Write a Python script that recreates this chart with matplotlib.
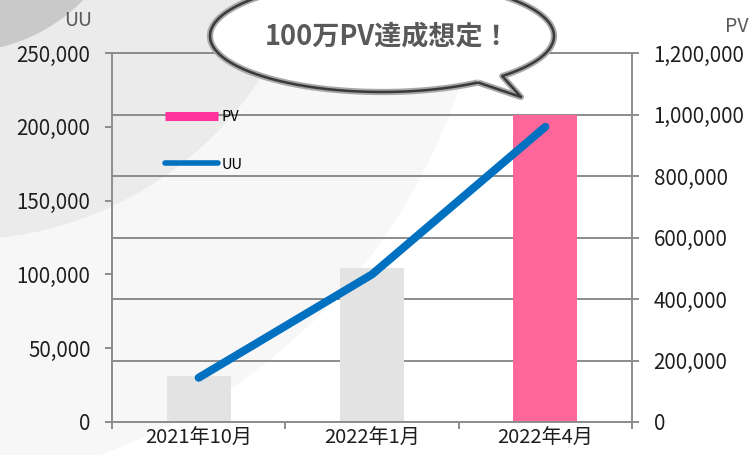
import numpy as np
import matplotlib
matplotlib.use("Agg")
import matplotlib.pyplot as plt
from matplotlib.patches import Circle, PathPatch
from matplotlib.path import Path
from matplotlib.lines import Line2D
from matplotlib.ticker import FuncFormatter

plt.rcParams['font.family'] = ['Noto Sans CJK JP', 'DejaVu Sans']

# ---- data ----
categories = ['2021年10月', '2022年1月', '2022年4月']
pv_values = [150000, 500000, 1000000]
uu_values = [30000, 100000, 200000]
pv_ticks = [0, 200000, 400000, 600000, 800000, 1000000, 1200000]
uu_ticks = [0, 50000, 100000, 150000, 200000, 250000]
bar_colors = ['#e3e3e3', '#e3e3e3', '#ff6699']
bubble_text = '100万PV達成想定！'

W, H = 750, 455
fig = plt.figure(figsize=(W / 100, H / 100), dpi=100)
fig.patch.set_facecolor('white')

# ---- background decoration (pixel coordinates) ----
bg = fig.add_axes([0, 0, 1, 1], zorder=-5)
bg.set_xlim(0, W)
bg.set_ylim(H, 0)
bg.axis('off')
bg.add_patch(Circle((-100, -100), 590, fc='#f7f7f7', ec='none'))
bg.add_patch(Circle((-40, -120), 360, fc='#ebebeb', ec='none'))
bg.add_patch(Circle((-40, -120), 172, fc='#c9c9c9', ec='none'))

# ---- main axes ----
L, R, T, B = 112, 632, 53, 422
ax = fig.add_axes([L / W, 1 - B / H, (R - L) / W, (B - T) / H])
ax.patch.set_visible(False)
x = np.arange(len(categories))
ax.bar(x, pv_values, width=0.37, color=bar_colors, zorder=2)
ax.set_xlim(-0.5, len(categories) - 0.5)
ax.set_ylim(0, pv_ticks[-1])
ax.set_axisbelow(True)
ax.grid(axis='y', color='#8c8c8c', lw=1.4)

ax.set_xticks(np.arange(len(categories) + 1) - 0.5)
ax.set_xticklabels([])
ax.set_xticks(x, minor=True)
ax.set_xticklabels(categories, minor=True)
ax.tick_params(axis='x', which='major', direction='out', length=5, width=1.4, color='#8c8c8c')
ax.tick_params(axis='x', which='minor', length=0, pad=4, labelsize=14.5, labelcolor='#1e1e1e')
for s in ax.spines.values():
    s.set_color('#8c8c8c')
    s.set_linewidth(1.4)

ax2 = ax.twinx()
ax2.patch.set_visible(False)
ax2.plot(x, uu_values, color='#0070c0', lw=5.8, solid_capstyle='round',
         solid_joinstyle='round', zorder=3)
ax2.set_ylim(0, uu_ticks[-1])
for s in ax2.spines.values():
    s.set_visible(False)

# PV axis on the right (ax), UU axis on the left (ax2)
ax.yaxis.set_ticks_position('right')
ax.set_yticks(pv_ticks)
ax.yaxis.set_major_formatter(FuncFormatter(lambda v, p: f'{int(v):,}'))
ax.tick_params(axis='y', which='both', left=False, labelleft=False, right=True, labelright=True,
               direction='out', length=5, width=1.4, color='#8c8c8c',
               pad=10.5, labelsize=14.8, labelcolor='#1e1e1e')

ax2.yaxis.set_ticks_position('left')
ax2.set_yticks(uu_ticks)
ax2.yaxis.set_major_formatter(FuncFormatter(lambda v, p: f'{int(v):,}'))
ax2.tick_params(axis='y', which='both', right=False, labelright=False, left=True, labelleft=True,
                direction='out', length=5, width=1.4, color='#8c8c8c',
                pad=10.5, labelsize=14.8, labelcolor='#1e1e1e')

# ---- legend ----
handles = [Line2D([], [], color='#ff3399', lw=6.5, solid_capstyle='butt'),
           Line2D([], [], color='#0070c0', lw=4, solid_capstyle='round')]
fig.legend(handles, ['PV', 'UU'], loc='upper left',
           bbox_to_anchor=(165 / W, 1 - 110 / H), frameon=False,
           fontsize=10.5, handlelength=3.6, handletextpad=0.25,
           labelspacing=2.3, borderpad=0, borderaxespad=0)

# ---- axis titles ----
fig.text(78 / W, 1 - 21 / H, 'UU', ha='center', va='center', fontsize=14, color='#595959')
fig.text(737 / W, 1 - 26 / H, 'PV', ha='center', va='center', fontsize=14, color='#595959')

# ---- speech bubble ----
ov = fig.add_axes([0, 0, 1, 1], zorder=10)
ov.set_xlim(0, W)
ov.set_ylim(H, 0)
ov.axis('off')
cx, cy, a, b = 382, 36, 172, 56
t1, t2 = 0.797, 0.979
ts_a = np.linspace(t2, t1 + 2 * np.pi, 300)
pts = [(cx + a * np.cos(t), cy + b * np.sin(t)) for t in ts_a]
pts.append((521, 97))
pts.append(pts[0])
path = Path(pts)
ov.add_patch(PathPatch(path, fc='white', ec='#a8a8a8', lw=4.5, joinstyle='round'))
ov.add_patch(PathPatch(path, fc='none', ec='#3a3a3a', lw=1.8, joinstyle='round'))
ov.text(388, 36, bubble_text, ha='center', va='center', fontsize=19.5,
        fontweight='bold', color='#595959')

fig.savefig('out.png', dpi=100)
